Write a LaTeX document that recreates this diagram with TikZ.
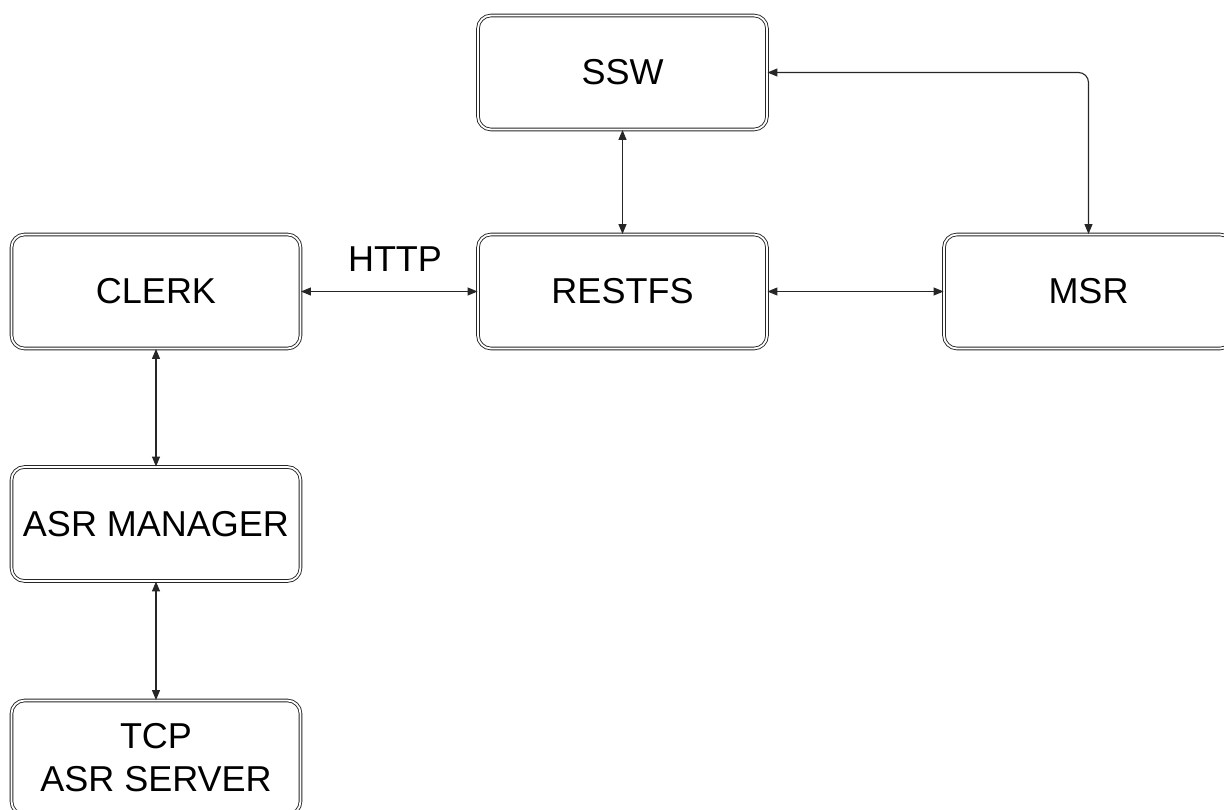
\documentclass[tikz,border=0pt]{standalone}
\usepackage{fontspec}
\setmainfont{Liberation Sans}
\usetikzlibrary{arrows.meta}
\begin{document}
\begin{tikzpicture}[x=1pt,y=-1pt,
  box/.style={draw=black!85, double=white, double distance=1.8pt, line width=0.9pt, rounded corners=13pt,
    minimum width=289pt, minimum height=114pt, inner sep=0pt, align=center,
    font=\fontsize{36}{43}\selectfont},
  conn/.style={line width=1.1pt, draw=black!85, {Triangle[length=10pt,width=8pt]}-{Triangle[length=10pt,width=8pt]}}
]
\useasboundingbox (0,0) rectangle (1224,809);
\node[box] (ssw) at (622.5,72.5) {SSW};
\node[box] (clerk) at (156,291.5) {CLERK};
\node[box] (restfs) at (622.5,291.5) {RESTFS};
\node[box] (msr) at (1088.5,291.5) {MSR};
\node[box] (asrm) at (156,524) {ASR MANAGER};
\node[box] (tcp) at (156,757.5) {TCP\\ASR SERVER};
\node[font=\fontsize{36}{43}\selectfont] (http) at (395,259) {HTTP};
\draw[conn] (ssw) -- (restfs);
\draw[conn, rounded corners=10pt] (ssw.east) -- (msr.north |- ssw.east) -- (msr.north);
\draw[conn] (clerk) -- (restfs);
\draw[conn] (restfs) -- (msr);
\draw[conn] (clerk) -- (asrm);
\draw[conn] (asrm) -- (tcp);
\end{tikzpicture}
\end{document}
